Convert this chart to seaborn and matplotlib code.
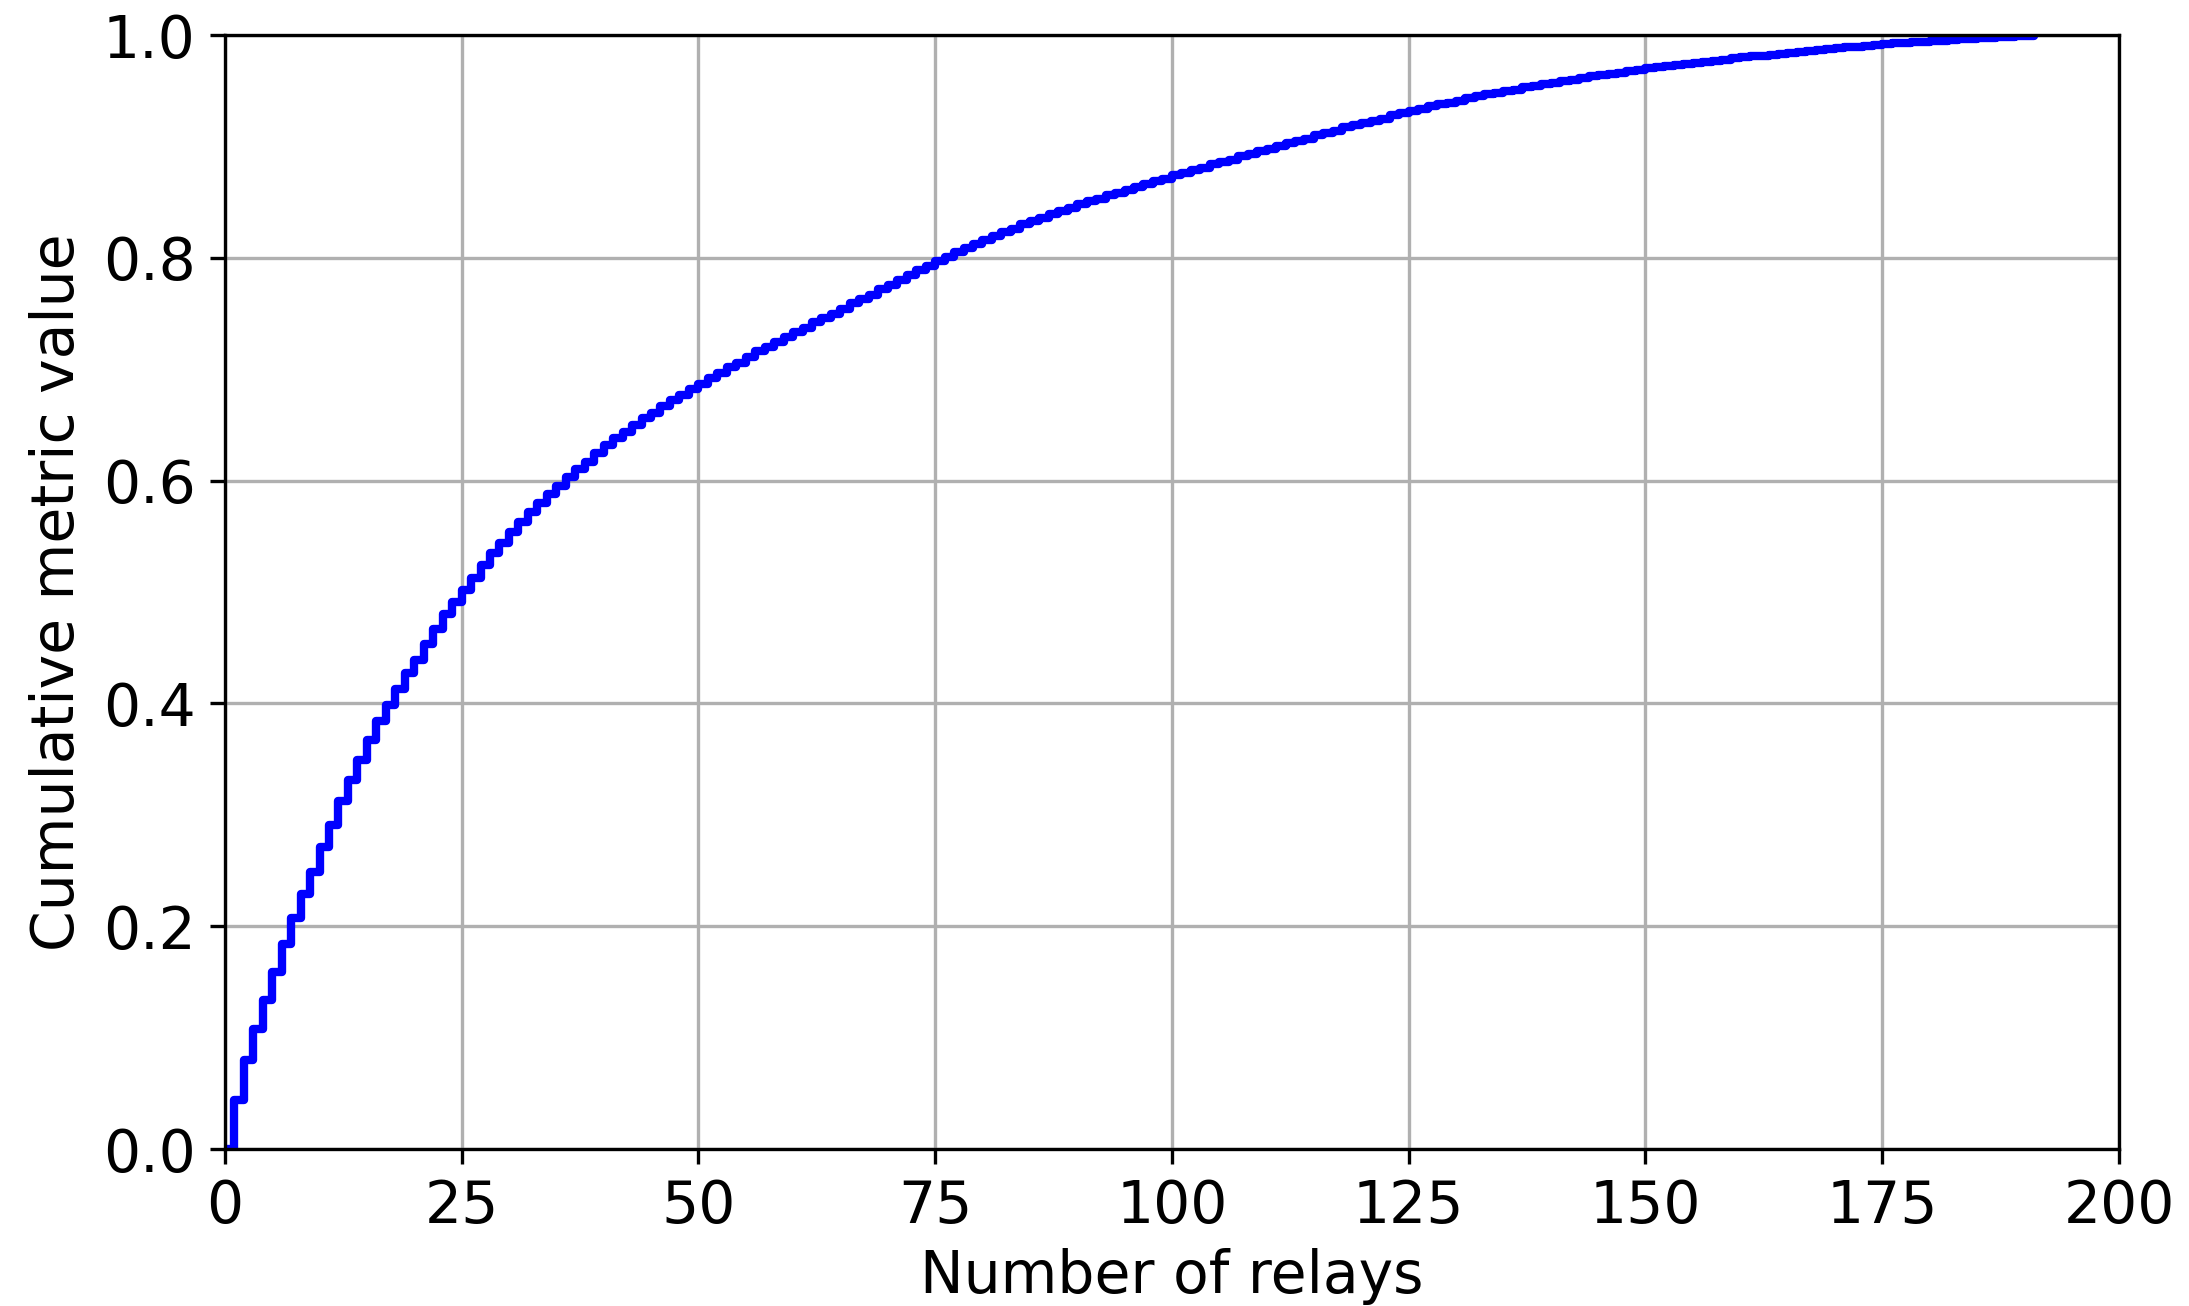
import pandas
import matplotlib
matplotlib.use("Agg")
import matplotlib.pyplot as plt
import seaborn as sns

# number of relays (x) and cumulative metric value
relays = list(range(0, 192))
cumulative = [
    0.000, 0.044, 0.080, 0.108, 0.134, 0.159, 0.184, 0.207, 0.229, 0.249,
    0.271, 0.291, 0.312, 0.331, 0.349, 0.367, 0.384, 0.399, 0.413, 0.427,
    0.439, 0.453, 0.467, 0.480, 0.491, 0.502, 0.513, 0.524, 0.535, 0.544,
    0.554, 0.563, 0.572, 0.580, 0.588, 0.595, 0.603, 0.610, 0.617, 0.625,
    0.632, 0.638, 0.644, 0.650, 0.656, 0.661, 0.667, 0.672, 0.677, 0.682,
    0.687, 0.692, 0.697, 0.702, 0.706, 0.711, 0.716, 0.720, 0.724, 0.729,
    0.733, 0.737, 0.742, 0.746, 0.750, 0.754, 0.759, 0.763, 0.767, 0.772,
    0.776, 0.780, 0.785, 0.789, 0.793, 0.797, 0.801, 0.805, 0.809, 0.812,
    0.816, 0.820, 0.823, 0.826, 0.830, 0.833, 0.836, 0.839, 0.842, 0.845,
    0.848, 0.851, 0.853, 0.856, 0.858, 0.861, 0.864, 0.866, 0.869, 0.871,
    0.874, 0.876, 0.879, 0.881, 0.884, 0.886, 0.888, 0.891, 0.893, 0.896,
    0.898, 0.900, 0.903, 0.905, 0.907, 0.910, 0.912, 0.914, 0.917, 0.919,
    0.921, 0.923, 0.925, 0.928, 0.930, 0.932, 0.934, 0.936, 0.938, 0.939,
    0.941, 0.943, 0.945, 0.947, 0.948, 0.950, 0.951, 0.953, 0.954, 0.956,
    0.957, 0.959, 0.960, 0.961, 0.963, 0.964, 0.965, 0.966, 0.968, 0.969,
    0.970, 0.971, 0.972, 0.973, 0.974, 0.975, 0.976, 0.977, 0.978, 0.979,
    0.980, 0.981, 0.9815, 0.982, 0.983, 0.984, 0.985, 0.986, 0.9865, 0.987,
    0.988, 0.989, 0.9895, 0.990, 0.991, 0.992, 0.9925, 0.993, 0.9935, 0.994,
    0.9945, 0.995, 0.9955, 0.996, 0.9965, 0.997, 0.9975, 0.998, 0.9985, 0.999,
    0.9995, 1.000,
]
x_ticks = [0, 25, 50, 75, 100, 125, 150, 175, 200]
y_ticks = [0.0, 0.2, 0.4, 0.6, 0.8, 1.0]


def photo():
    sns.set_style("ticks", {
        "axes.edgecolor": "black", "axes.grid": True, "grid.color": "#b0b0b0",
        "text.color": "black", "axes.labelcolor": "black",
        "xtick.color": "black", "ytick.color": "black",
    })
    plt.rcParams['font.family'] = ['DejaVu Sans']

    data = pandas.DataFrame({"relays": relays, "value": cumulative})

    fig, ax = plt.subplots(figsize=(2189 / 300, 1306 / 300), dpi=300)
    fig.subplots_adjust(left=0.1027, right=0.968, top=0.9732, bottom=0.1202)

    sns.lineplot(
        x="relays", y="value", data=data, ax=ax,
        drawstyle="steps-post", color="blue", linewidth=2.0
    )

    ax.set_xlim(0, 200)
    ax.set_ylim(0, 1)
    ax.set_xticks(x_ticks)
    ax.set_yticks(y_ticks)
    ax.set_xticklabels([str(t) for t in x_ticks])
    ax.set_yticklabels(["%.1f" % t for t in y_ticks])
    ax.tick_params(labelsize=14, length=3.5, width=0.8)
    for s in ax.spines.values():
        s.set_linewidth(0.8)
    ax.grid(True, color="#b0b0b0", linewidth=0.8)
    ax.set_xlabel("Number of relays", fontsize=14, labelpad=3)
    ax.set_ylabel("Cumulative metric value", fontsize=14)

    fig.savefig("out.png", dpi=300)


if __name__ == '__main__':
    photo()
